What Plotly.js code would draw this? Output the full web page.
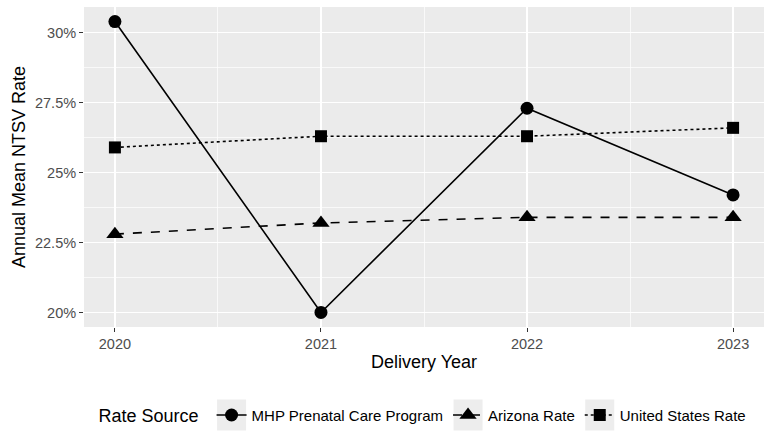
<!DOCTYPE html>
<html>
<head>
<meta charset="utf-8">
<script src="https://cdn.plot.ly/plotly-3.0.1.min.js"></script>
<style>
  html, body { margin: 0; padding: 0; background: #ffffff; }
  #chart { width: 772px; height: 438px; }
</style>
</head>
<body>
<div id="chart"></div>
<script>
// Annual mean NTSV rate by delivery year, three rate sources
const years = [2020, 2021, 2022, 2023];
const mhpRate = [30.4, 20.0, 27.3, 24.2];
const arizonaRate = [22.8, 23.2, 23.4, 23.4];
const usRate = [25.9, 26.3, 26.3, 26.6];

const seriesNames = ['MHP Prenatal Care Program', 'Arizona Rate', 'United States Rate'];
const yTickVals = [20, 22.5, 25, 27.5, 30];
const yTickText = ['20%', '22.5%', '25%', '27.5%', '30%'];
const xTickVals = [2020, 2021, 2022, 2023];
const xTickText = ['2020', '2021', '2022', '2023'];

const font = 'Liberation Sans, Arial, Helvetica, sans-serif';

const traces = [
  {
    x: years, y: mhpRate, name: seriesNames[0], type: 'scatter', mode: 'lines+markers',
    line: { color: '#000000', width: 1.6, dash: 'solid' },
    marker: { symbol: 'circle', size: 13, color: '#000000' }
  },
  {
    x: years, y: arizonaRate, name: seriesNames[1], type: 'scatter', mode: 'lines+markers',
    line: { color: '#000000', width: 1.6, dash: 'dash' },
    marker: { symbol: 'triangle-up', size: 15, color: '#000000' }
  },
  {
    x: years, y: usRate, name: seriesNames[2], type: 'scatter', mode: 'lines+markers',
    line: { color: '#000000', width: 1.6, dash: 'dot' },
    marker: { symbol: 'square', size: 12, color: '#000000' }
  }
];

const layout = {
  width: 772, height: 438,
  margin: { l: 84, r: 8, t: 7, b: 111 },
  paper_bgcolor: '#ffffff',
  plot_bgcolor: '#EBEBEB',
  font: { family: font, color: '#000000' },
  showlegend: true,
  xaxis: {
    range: [2019.85, 2023.15],
    tickvals: xTickVals, ticktext: xTickText,
    tickfont: { size: 14.5, color: '#4D4D4D', family: font },
    ticks: 'outside', ticklen: 4, tickcolor: '#333333', tickwidth: 1,
    showgrid: true, gridcolor: '#ffffff', gridwidth: 1.4,
    minor: { tickvals: [2020.5, 2021.5, 2022.5], showgrid: true, gridcolor: '#ffffff', gridwidth: 0.7, ticks: '' },
    zeroline: false, showline: false,
    title: { text: 'Delivery Year', font: { size: 18, color: '#000000', family: font }, standoff: 3 }
  },
  yaxis: {
    range: [19.48, 30.92],
    tickvals: yTickVals, ticktext: yTickText,
    tickfont: { size: 14.5, color: '#4D4D4D', family: font },
    ticks: 'outside', ticklen: 4, tickcolor: '#333333', tickwidth: 1,
    showgrid: true, gridcolor: '#ffffff', gridwidth: 1.4,
    minor: { tickvals: [21.25, 23.75, 26.25, 28.75], showgrid: true, gridcolor: '#ffffff', gridwidth: 0.7, ticks: '' },
    zeroline: false, showline: false,
    title: { text: 'Annual Mean NTSV Rate', font: { size: 18, color: '#000000', family: font }, standoff: 4 }
  },
  legend: {
    orientation: 'h',
    x: 0.5, xanchor: 'center', xref: 'paper',
    y: 0.012, yanchor: 'bottom', yref: 'container',
    font: { size: 15, color: '#000000', family: font },
    title: { text: 'Rate Source ', font: { size: 18, color: '#000000', family: font }, side: 'left' },
    itemwidth: 30,
    bgcolor: 'rgba(0,0,0,0)'
  }
};

// Grey key backgrounds behind each legend symbol, as in ggplot-style legends
function addLegendKeys(gd) {
  const ns = 'http://www.w3.org/2000/svg';
  gd.querySelectorAll('.legend .traces').forEach(function (g) {
    if (g.querySelector('rect.keybg')) return;
    const r = document.createElementNS(ns, 'rect');
    r.setAttribute('class', 'keybg');
    r.setAttribute('x', 5.5);
    r.setAttribute('y', -15.5);
    r.setAttribute('width', 29);
    r.setAttribute('height', 31);
    r.setAttribute('fill', '#EDEDED');
    g.insertBefore(r, g.firstChild);
  });
}

Plotly.newPlot('chart', traces, layout, { displayModeBar: false, staticPlot: true })
  .then(addLegendKeys);
</script>
</body>
</html>
